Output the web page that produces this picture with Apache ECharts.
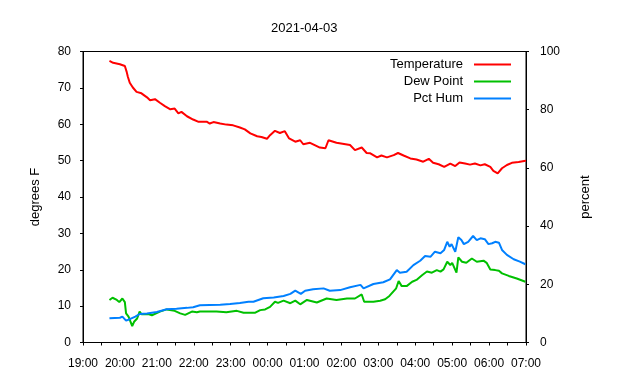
<!DOCTYPE html>
<html>
<head>
<meta charset="utf-8">
<script src="https://cdn.jsdelivr.net/npm/echarts@6/dist/echarts.min.js"></script>
<style>html,body{margin:0;padding:0;background:#fff}#c{width:640px;height:380px}</style>
</head>
<body>
<div id="c"></div>
<script>
const titleText = '2021-04-03';
const xTickLabels = ['19:00','20:00','21:00','22:00','23:00','00:00','01:00','02:00','03:00','04:00','05:00','06:00','07:00'];

const tempTimes = ['19:43','19:49','20:00','20:08','20:11','20:13','20:16','20:21','20:27','20:35','20:44','20:49','20:57','21:05','21:13','21:22','21:29','21:35','21:40','21:49','21:59','22:07','22:21','22:26','22:32','22:43','22:53','23:04','23:15','23:23','23:32','23:43','23:50','23:59','00:04','00:12','00:20','00:28','00:35','00:45','00:53','00:58','01:09','01:25','01:34','01:39','01:52','02:14','02:22','02:33','02:41','02:47','02:58','03:05','03:14','03:25','03:32','03:41','03:52','04:02','04:13','04:22','04:29','04:38','04:47','04:57','05:05','05:08','05:12','05:21','05:29','05:37','05:46','05:53','06:02','06:07','06:14','06:21','06:29','06:37','06:48','06:57','07:00'];
const tempValues = [77.4,76.9,76.5,76.0,74.4,73.0,71.4,70.1,68.9,68.5,67.4,66.6,66.9,65.9,65.0,64.1,64.3,63.0,63.4,62.2,61.3,60.7,60.7,60.2,60.6,60.2,59.9,59.7,59.1,58.6,57.5,56.7,56.5,56.0,57.0,58.2,57.6,58.1,56.1,55.2,55.6,54.5,54.9,53.6,53.4,55.6,54.9,54.3,52.9,53.6,52.1,52.0,50.9,51.4,50.9,51.5,52.1,51.4,50.6,50.3,49.7,50.5,49.4,49.0,48.3,49.2,48.5,48.0,49.5,49.2,48.9,49.2,48.7,49.0,48.3,47.2,46.5,47.9,48.8,49.4,49.6,49.9,50.0];

const dewTimes = ['19:43','19:48','19:55','19:59','20:04','20:08','20:10','20:14','20:16','20:20','20:23','20:28','20:32','20:35','20:46','20:52','21:05','21:16','21:29','21:38','21:46','21:57','22:05','22:10','22:37','22:53','23:10','23:21','23:40','23:48','23:56','00:04','00:12','00:17','00:26','00:37','00:45','00:53','01:04','01:20','01:36','01:52','02:09','02:22','02:33','02:37','02:52','03:03','03:11','03:18','03:29','03:33','03:38','03:46','03:55','04:02','04:11','04:19','04:27','04:35','04:41','04:46','04:52','04:57','05:00','05:07','05:10','05:16','05:23','05:32','05:40','05:51','05:56','06:02','06:10','06:16','06:21','06:32','06:45','06:59'];
const dewValues = [11.7,12.3,11.7,11.1,12.1,11.1,8.0,7.1,7.6,4.5,5.7,6.6,8.5,7.8,7.8,7.5,8.5,9.1,8.7,8.0,7.6,8.5,8.3,8.5,8.5,8.3,8.7,8.2,8.2,8.9,9.1,9.8,11.2,10.9,11.5,10.8,11.5,10.5,11.7,11.0,12.1,11.7,12.1,12.1,13.2,11.2,11.2,11.5,11.9,12.8,14.9,16.9,15.5,15.5,16.7,17.2,18.5,19.5,19.2,19.9,19.5,20.1,22.2,21.3,21.9,19.2,23.4,22.2,21.9,23.1,22.2,22.5,21.9,20.1,19.9,19.7,19.0,18.3,17.6,16.7];

const humTimes = ['19:43','20:00','20:04','20:10','20:16','20:19','20:25','20:32','20:44','21:00','21:16','21:32','21:49','21:59','22:10','22:26','22:43','22:59','23:15','23:29','23:37','23:53','00:10','00:26','00:37','00:45','00:54','01:01','01:14','01:31','01:41','01:58','02:14','02:31','02:36','02:52','03:08','03:19','03:30','03:35','03:46','03:57','04:08','04:16','04:25','04:32','04:41','04:47','04:52','04:56','04:59','05:05','05:08','05:10','05:15','05:19','05:26','05:34','05:40','05:46','05:53','05:59','06:05','06:10','06:16','06:21','06:29','06:40','06:50','06:59'];
const humValues = [8.3,8.5,8.9,7.5,8.0,7.4,8.9,9.8,10.0,10.5,11.4,11.6,11.9,12.1,12.8,12.9,13.0,13.2,13.6,14.0,14.0,15.2,15.5,16.0,16.7,17.8,16.7,17.8,18.3,18.6,17.8,18.0,19.0,19.8,18.6,20.1,20.7,21.7,24.9,24.0,24.3,26.6,28.1,29.7,29.5,31.2,30.7,31.8,34.6,32.9,33.8,31.2,31.5,36.2,35.2,33.8,34.6,36.6,35.2,35.8,35.5,33.8,34.1,34.6,34.3,31.8,30.1,28.6,27.8,26.9];

function toMin(s) {
  const [h, m] = s.split(':').map(Number);
  let v = h * 60 + m - 19 * 60;
  if (v < 0) v += 24 * 60;
  return v;
}
function pairs(times, vals) { return times.map((t, i) => [toMin(t), vals[i]]); }

const chart = echarts.init(document.getElementById('c'), null, {renderer: 'canvas'});
const FONT = 'Liberation Sans, Arial, sans-serif';
chart.setOption({
  animation: false,
  backgroundColor: '#fff',
  textStyle: {fontFamily: FONT, color: '#000'},
  title: {
    text: titleText, left: 266, top: 17,
    textStyle: {fontSize: 13, fontWeight: 'normal', color: '#000', fontFamily: FONT}
  },
  legend: {
    orient: 'vertical', right: 124, top: 53, align: 'right',
    itemWidth: 37, itemHeight: 2, itemGap: 4, icon: 'rect',
    textStyle: {fontSize: 13, color: '#000', fontFamily: FONT, padding: [0, 6, 0, 0]},
    data: ['Temperature', 'Dew Point', 'Pct Hum']
  },
  grid: {left: 83, right: 114, top: 51.5, bottom: 37.5, show: true, borderColor: '#000', borderWidth: 1, containLabel: false},
  xAxis: {
    type: 'value', min: 0, max: 720, interval: 60,
    axisLine: {lineStyle: {color: '#000', width: 1}},
    axisTick: {show: true, inside: false, length: 3, lineStyle: {color: '#000'}},
    minorTick: {show: true, splitNumber: 2, length: 3, lineStyle: {color: '#000'}},
    splitLine: {show: false},
    axisLabel: {fontSize: 12, color: '#000', margin: 15, fontFamily: FONT,
      formatter: v => xTickLabels[Math.round(v / 60)]}
  },
  yAxis: [{
    type: 'value', min: 0, max: 80, interval: 10, position: 'left',
    name: 'degrees F', nameLocation: 'middle', nameGap: 41,
    nameTextStyle: {fontSize: 13, color: '#000', fontFamily: FONT},
    axisLine: {show: true, lineStyle: {color: '#000'}},
    axisTick: {show: true, length: 3, lineStyle: {color: '#000'}},
    splitLine: {show: false},
    axisLabel: {fontSize: 12, color: '#000', margin: 12, fontFamily: FONT}
  }, {
    type: 'value', min: 0, max: 100, interval: 20, position: 'right',
    name: 'percent', nameLocation: 'middle', nameGap: 53,
    nameTextStyle: {fontSize: 13, color: '#000', fontFamily: FONT},
    axisLine: {show: true, lineStyle: {color: '#000'}},
    axisTick: {show: true, length: 3, lineStyle: {color: '#000'}},
    splitLine: {show: false},
    axisLabel: {fontSize: 12, color: '#000', margin: 14, fontFamily: FONT}
  }],
  series: [{
    name: 'Temperature', type: 'line', yAxisIndex: 0, showSymbol: false,
    color: '#ff0000', lineStyle: {width: 2, color: '#ff0000'},
    data: pairs(tempTimes, tempValues)
  }, {
    name: 'Dew Point', type: 'line', yAxisIndex: 0, showSymbol: false,
    color: '#00c000', lineStyle: {width: 2, color: '#00c000'},
    data: pairs(dewTimes, dewValues)
  }, {
    name: 'Pct Hum', type: 'line', yAxisIndex: 1, showSymbol: false,
    color: '#0080ff', lineStyle: {width: 2, color: '#0080ff'},
    data: pairs(humTimes, humValues)
  }]
});
</script>
</body>
</html>
